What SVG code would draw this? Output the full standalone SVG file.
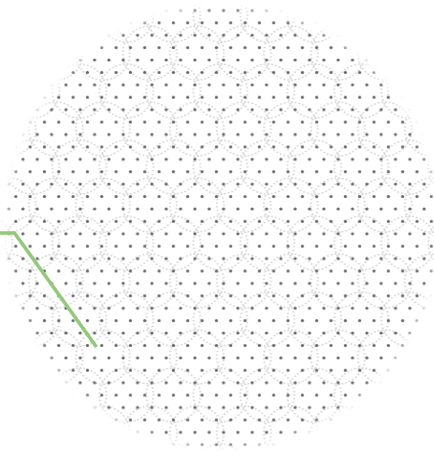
<svg xmlns="http://www.w3.org/2000/svg" width="434" height="457" viewBox="0 0 434 457">
  <style>
    .dot { fill: #646464; }
    .ring { fill: none; stroke: #cbcbcb; stroke-width: 1.7; stroke-linecap: round; stroke-dasharray: 0.01 3.75; }
    .link { fill: none; stroke: #93c97c; stroke-width: 3.6; stroke-linejoin: miter; }
  </style>
  <defs>
    <pattern id="dots" patternUnits="userSpaceOnUse" x="151.9" y="159.3" width="14.33" height="24.82">
      <circle class="dot" cx="0" cy="0" r="1.6"/>
      <circle class="dot" cx="14.33" cy="0" r="1.6"/>
      <circle class="dot" cx="0" cy="24.82" r="1.6"/>
      <circle class="dot" cx="14.33" cy="24.82" r="1.6"/>
      <circle class="dot" cx="7.165" cy="12.41" r="1.6"/>
    </pattern>
    <pattern id="rings" patternUnits="userSpaceOnUse" x="173.4" y="395.1" width="47" height="76">
      <circle class="ring" cx="0" cy="0" r="27"/>
      <circle class="ring" cx="47" cy="0" r="27"/>
      <circle class="ring" cx="0" cy="76" r="27"/>
      <circle class="ring" cx="47" cy="76" r="27"/>
      <circle class="ring" cx="23.5" cy="38" r="27"/>
      <circle class="ring" cx="-23.5" cy="38" r="27"/>
      <circle class="ring" cx="70.5" cy="38" r="27"/>
    </pattern>
    <filter id="soft" x="-10%" y="-10%" width="120%" height="120%">
      <feGaussianBlur stdDeviation="3"/>
    </filter>
    <mask id="disc" maskUnits="userSpaceOnUse" x="0" y="0" width="434" height="457">
      <ellipse cx="222" cy="227" rx="215" ry="220" fill="#fff" filter="url(#soft)"/>
    </mask>
  </defs>
  <g id="pattern" mask="url(#disc)">
    <rect x="0" y="0" width="434" height="457" fill="url(#rings)"/>
    <rect x="0" y="0" width="434" height="457" fill="url(#dots)"/>
  </g>
  <g id="connectors">
    <polyline class="link" points="0,233 14.5,233 96.5,347"/>
  </g>
</svg>
